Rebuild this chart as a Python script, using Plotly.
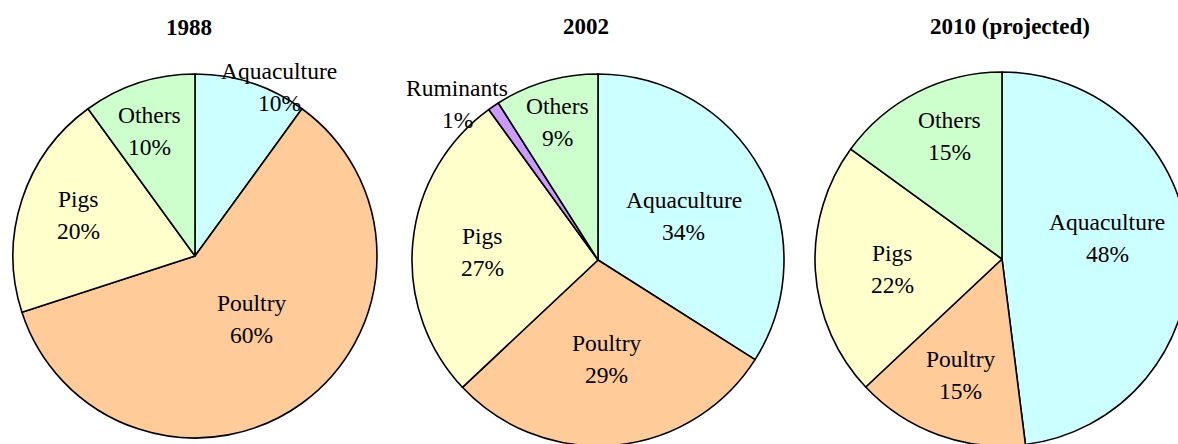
import plotly.graph_objects as go

# ---- data ----
titles = ["1988", "2002", "2010 (projected)"]
labels_1988 = ["Aquaculture", "Poultry", "Pigs", "Others"]
values_1988 = [10, 60, 20, 10]
labels_2002 = ["Aquaculture", "Poultry", "Pigs", "Ruminants", "Others"]
values_2002 = [34, 29, 27, 1, 9]
labels_2010 = ["Aquaculture", "Poultry", "Pigs", "Others"]
values_2010 = [48, 15, 22, 15]

# ---- styles / layout ----
colors = {"Aquaculture": "#CCFFFF", "Poultry": "#FFCC99", "Pigs": "#FFFFCC",
          "Others": "#CCFFCC", "Ruminants": "#CC99FF"}
W, H = 1200, 460
FONT = "Liberation Serif, Times New Roman, serif"
# pie centre / radius in pixels
pie_geom = [(195, 256, 182), (598, 260, 186), (1002, 259, 187)]
title_pos = [(189, 28), (586, 27), (1010, 27)]
# label block centres (name line) in pixels
label_pos = [
    {"Aquaculture": (279, 71), "Poultry": (251, 303), "Pigs": (78, 199), "Others": (149, 115)},
    {"Aquaculture": (684, 200), "Poultry": (606, 343), "Pigs": (482, 236),
     "Ruminants": (457, 88), "Others": (557, 106)},
    {"Aquaculture": (1107, 222), "Poultry": (960, 359), "Pigs": (892, 253), "Others": (949, 120)},
]
LINE_GAP = 32

series = [(labels_1988, values_1988), (labels_2002, values_2002), (labels_2010, values_2010)]

fig = go.Figure()
annotations = []
for i, (labs, vals) in enumerate(series):
    cx, cy, r = pie_geom[i]
    fig.add_trace(go.Pie(
        labels=labs, values=vals, sort=False, direction="clockwise", rotation=0,
        marker=dict(colors=[colors[l] for l in labs], line=dict(color="black", width=1.6)),
        textinfo="none", hoverinfo="skip", showlegend=False,
        domain=dict(x=[(cx - r) / W, (cx + r) / W], y=[1 - (cy + r) / H, 1 - (cy - r) / H]),
    ))
    tx, ty = title_pos[i]
    annotations.append(dict(text="<b>%s</b>" % titles[i], x=tx / W, y=1 - ty / H,
                            xref="paper", yref="paper", showarrow=False,
                            xanchor="center", yanchor="middle",
                            font=dict(family=FONT, size=23, color="black")))
    total = sum(vals)
    for lab, v in zip(labs, vals):
        lx, ly = label_pos[i][lab]
        pct = "%d%%" % round(100 * v / total)
        annotations.append(dict(text=lab, x=lx / W, y=1 - ly / H, xref="paper", yref="paper",
                                showarrow=False, xanchor="center", yanchor="middle",
                                font=dict(family=FONT, size=23.5, color="black")))
        annotations.append(dict(text=pct, x=lx / W, y=1 - (ly + LINE_GAP) / H, xref="paper",
                                yref="paper", showarrow=False, xanchor="center", yanchor="middle",
                                font=dict(family=FONT, size=23.5, color="black")))

fig.update_layout(width=W, height=H, margin=dict(l=0, r=0, t=0, b=0),
                  paper_bgcolor="white", plot_bgcolor="white", annotations=annotations)

fig.write_html("out.html", config={"displayModeBar": False},
               post_script="document.body.style.margin='0';document.body.style.overflow='hidden';"
                           "document.documentElement.style.overflow='hidden';")
